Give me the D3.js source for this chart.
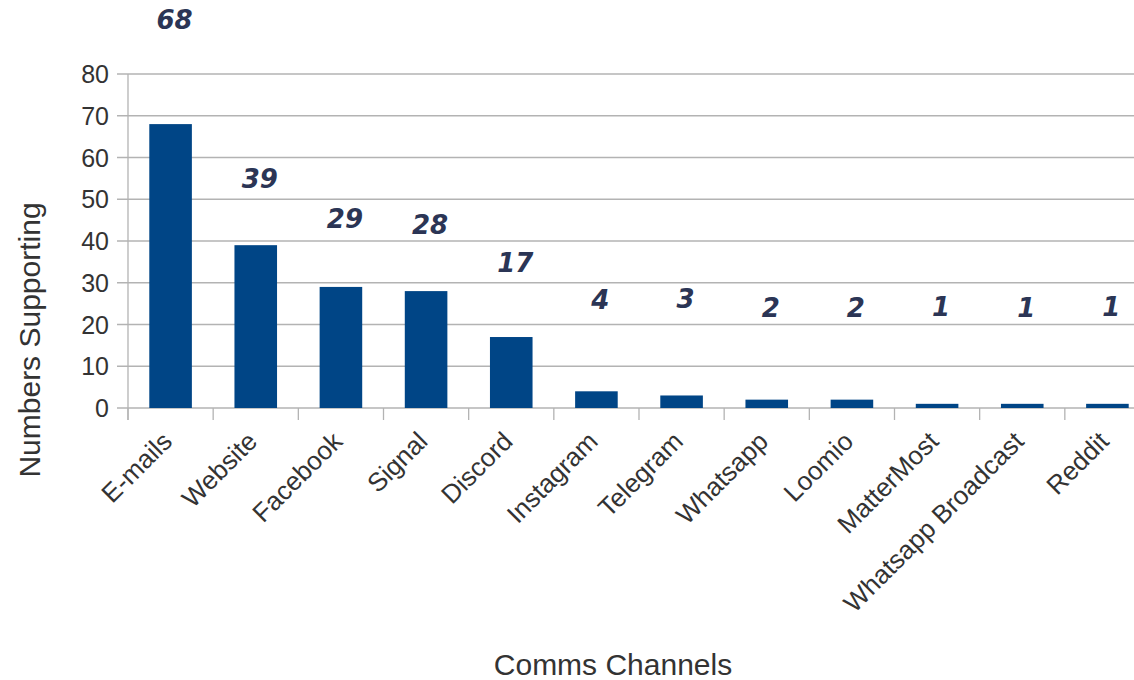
<!DOCTYPE html>
<html><head><meta charset="utf-8">
<script src="https://cdn.jsdelivr.net/npm/d3@7"></script>
<style>body{margin:0;background:#fff}svg{display:block}</style>
</head><body><svg id="c" width="1134" height="680"></svg>
<script>
const categories = ["E-mails","Website","Facebook","Signal","Discord","Instagram","Telegram","Whatsapp","Loomio","MatterMost","Whatsapp Broadcast","Reddit"];
const values = [68,39,29,28,17,4,3,2,2,1,1,1];
// height (in value units) at which each data label sits
const labelAt = [93,55,45.3,43.8,34.7,26,26.3,24,24,24.2,24,24.2];
const yTicks = [0,10,20,30,40,50,60,70,80];

const svg = d3.select("#c");
const m = {left:128, top:74, right:-16, bottom:272};
const W = 1134, H = 680;
const FONT = "Liberation Sans, Arial, sans-serif";
const x = d3.scaleBand().domain(categories).range([m.left, W - m.right]).paddingInner(0.5).paddingOuter(0.25);
const y = d3.scaleLinear().domain([0,80]).range([H - m.bottom, m.top]);
const step = x.step();

// gridlines
svg.append("g").selectAll("line").data(yTicks).join("line")
  .attr("x1", m.left - 11).attr("x2", W)
  .attr("y1", d => y(d)).attr("y2", d => y(d))
  .attr("stroke", "#b3b3b3").attr("stroke-width", 1.3);

// y axis line
svg.append("line").attr("x1", m.left).attr("x2", m.left)
  .attr("y1", y(80)).attr("y2", y(0) + 12).attr("stroke", "#b3b3b3").attr("stroke-width", 1.3);

// x ticks at category boundaries
svg.append("g").selectAll("line").data(categories).join("line")
  .attr("x1", d => x(d) + x.bandwidth()/2 - step/2).attr("x2", d => x(d) + x.bandwidth()/2 - step/2)
  .attr("y1", y(0)).attr("y2", y(0) + 12)
  .attr("stroke", "#b3b3b3").attr("stroke-width", 1.3);

// y tick labels
svg.append("g").selectAll("text").data(yTicks).join("text")
  .attr("x", m.left - 19).attr("y", d => y(d)).attr("dy", "0.36em")
  .attr("text-anchor", "end").attr("font-family", FONT)
  .attr("font-size", 25).attr("fill", "#333").text(d => d);

// bars
svg.append("g").selectAll("rect").data(values).join("rect")
  .attr("x", (d,i) => x(categories[i])).attr("width", x.bandwidth())
  .attr("y", d => y(d)).attr("height", d => y(0) - y(d))
  .attr("fill", "#004586");

// data labels
svg.append("g").selectAll("text").data(values).join("text")
  .attr("x", (d,i) => x(categories[i]) + x.bandwidth()/2 + 4)
  .attr("y", (d,i) => y(labelAt[i])).attr("dy", "0.36em")
  .attr("text-anchor", "middle").attr("font-family", "DejaVu Sans, sans-serif")
  .attr("font-weight", "bold").attr("font-style", "italic")
  .attr("font-size", 26).attr("fill", "#2b3555").text(d => d);

// x tick labels
svg.append("g").selectAll("text").data(categories).join("text")
  .attr("transform", d => `translate(${x(d) + x.bandwidth()/2 + 3},${y(0) + 35}) rotate(-45)`)
  .attr("text-anchor", "end").attr("font-family", FONT)
  .attr("font-size", 26).attr("fill", "#333").text(d => d);

// axis titles
svg.append("text").attr("transform", "translate(40,340) rotate(-90)")
  .attr("text-anchor", "middle").attr("font-family", FONT)
  .attr("font-size", 30).attr("fill", "#333").text("Numbers Supporting");
svg.append("text").attr("x", 613).attr("y", 675)
  .attr("text-anchor", "middle").attr("font-family", FONT)
  .attr("font-size", 30).attr("fill", "#333").text("Comms Channels");
</script></body></html>
